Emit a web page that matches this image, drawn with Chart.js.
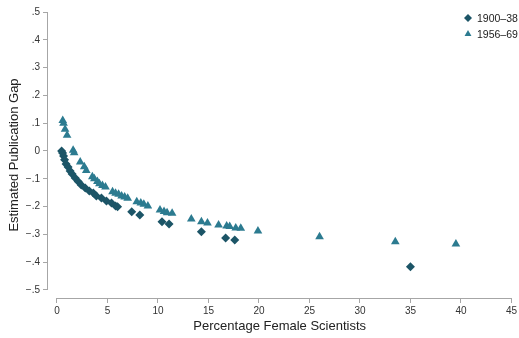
<!DOCTYPE html>
<html>
<head>
<meta charset="utf-8">
<script src="https://cdn.jsdelivr.net/npm/chart.js@4"></script>
<style>
  html, body { margin: 0; padding: 0; background: #fff; }
</style>
</head>
<body>
<canvas id="gapChart" width="519" height="338"></canvas>
<script>
// series 1900-38 (diamonds): percentage female scientists / estimated gap
const early_x = [0.46, 0.55, 0.65, 0.75, 0.9, 1.1, 1.3, 1.5, 1.8, 2.1, 2.4, 2.8, 3.2, 3.6, 3.9, 4.4, 4.9, 5.4, 5.8, 6.0, 7.4, 8.2, 10.4, 11.1, 14.3, 16.7, 17.6, 35.0];
const early_y = [0.0, -0.007, -0.018, -0.032, -0.047, -0.058, -0.072, -0.083, -0.097, -0.11, -0.122, -0.133, -0.144, -0.151, -0.162, -0.169, -0.18, -0.187, -0.198, -0.201, -0.219, -0.23, -0.255, -0.263, -0.291, -0.313, -0.32, -0.417];

// series 1956-69 (triangles)
const late_x = [0.57, 0.65, 0.8, 1.0, 1.6, 1.7, 2.3, 2.7, 2.9, 3.5, 3.7, 4.0, 4.2, 4.5, 4.8, 5.5, 5.8, 6.1, 6.4, 6.7, 7.0, 7.9, 8.3, 8.6, 9.0, 10.2, 10.6, 10.9, 11.4, 13.3, 14.3, 14.9, 16.0, 16.8, 17.1, 17.7, 18.2, 19.9, 26.0, 33.5, 39.5];
const late_y = [0.11, 0.10, 0.078, 0.057, 0.003, -0.006, -0.04, -0.057, -0.07, -0.093, -0.1, -0.11, -0.118, -0.124, -0.13, -0.147, -0.152, -0.156, -0.162, -0.166, -0.17, -0.183, -0.187, -0.192, -0.198, -0.212, -0.218, -0.222, -0.224, -0.245, -0.255, -0.259, -0.266, -0.27, -0.272, -0.277, -0.278, -0.288, -0.309, -0.327, -0.335];

const seriesNames = ['1900\u201338', '1956\u201369'];
const xTicks = [0, 5, 10, 15, 20, 25, 30, 35, 40, 45];
const yTicks = [-0.5, -0.4, -0.3, -0.2, -0.1, 0, 0.1, 0.2, 0.3, 0.4, 0.5];

const colEarly = '#1c5567';
const colLate = '#2c7b90';
const axisGray = '#a6a6a6';

const toPoints = (xs, ys) => xs.map((x, i) => ({ x: x, y: ys[i] }));

function fmtY(v) {
    if (Math.abs(v) < 1e-9) return '0';
    const s = Math.abs(v).toFixed(1).replace(/^0/, '');
    return (v < 0 ? '\u2212' : '') + s;
}

// axis lines only between first and last tick + legend in the corner
const axisLines = {
    id: 'axisLines',
    afterDraw(chart) {
        const ctx = chart.ctx;
        const xs = chart.scales.x, ys = chart.scales.y;
        ctx.save();
        ctx.strokeStyle = axisGray;
        ctx.lineWidth = 1;
        const yb = Math.round(xs.top) + 0.5;
        ctx.beginPath();
        ctx.moveTo(xs.getPixelForValue(xTicks[0]), yb);
        ctx.lineTo(xs.getPixelForValue(xTicks[xTicks.length - 1]), yb);
        ctx.stroke();
        const xl = Math.round(ys.right) - 0.5;
        ctx.beginPath();
        ctx.moveTo(xl, ys.getPixelForValue(yTicks[0]));
        ctx.lineTo(xl, ys.getPixelForValue(yTicks[yTicks.length - 1]));
        ctx.stroke();

        ctx.font = '10.5px "Liberation Sans", Arial, sans-serif';
        ctx.textBaseline = 'middle';
        chart.data.datasets.forEach((ds, i) => {
            const cy = 18 + i * 16;
            ctx.fillStyle = ds.backgroundColor;
            ctx.strokeStyle = ds.backgroundColor;
            ctx.lineWidth = 0;
            Chart.helpers.drawPoint(ctx, {
                pointStyle: ds.pointStyle, radius: 4, rotation: 0, borderWidth: 0
            }, 468, cy);
            ctx.fillStyle = '#222';
            ctx.fillText(ds.label, 477, cy + 1);
        });
        ctx.restore();
    }
};

const tickFont = { family: '"Liberation Sans", Arial, sans-serif', size: 10 };
const titleFont = { family: '"Liberation Sans", Arial, sans-serif', size: 13 };

new Chart(document.getElementById('gapChart'), {
    type: 'scatter',
    data: {
        datasets: [{
            label: seriesNames[0],
            data: toPoints(early_x, early_y),
            pointStyle: 'rectRot',
            radius: 4.5,
            backgroundColor: colEarly,
            borderColor: colEarly,
            borderWidth: 0
        }, {
            label: seriesNames[1],
            data: toPoints(late_x, late_y),
            pointStyle: 'triangle',
            radius: 5,
            backgroundColor: colLate,
            borderColor: colLate,
            borderWidth: 0
        }]
    },
    options: {
        responsive: false,
        animation: false,
        layout: { padding: { top: 12, right: 5, left: 0, bottom: 0 } },
        plugins: {
            legend: { display: false },
            tooltip: { enabled: false }
        },
        scales: {
            x: {
                type: 'linear',
                min: -0.89,
                max: 45,
                afterBuildTicks: s => { s.ticks = xTicks.map(v => ({ value: v })); },
                afterFit: s => { s.height = 40; },
                ticks: { font: tickFont, color: '#333', padding: 2, maxRotation: 0, autoSkip: false,
                         callback: v => String(v) },
                grid: { drawOnChartArea: false, tickLength: 5, color: axisGray },
                border: { display: false },
                title: { display: true, text: 'Percentage Female Scientists', font: titleFont,
                         color: '#222', padding: { top: 0, bottom: 4 } }
            },
            y: {
                type: 'linear',
                min: -0.529,
                max: 0.5,
                afterBuildTicks: s => { s.ticks = yTicks.map(v => ({ value: v })); },
                afterFit: s => { s.width = 48; },
                ticks: { font: tickFont, color: '#333', padding: 3, autoSkip: false,
                         callback: v => fmtY(v) },
                grid: { drawOnChartArea: false, tickLength: 5, color: axisGray },
                border: { display: false },
                title: { display: true, text: 'Estimated Publication Gap', font: titleFont,
                         color: '#222', padding: { top: 7, bottom: 0 } }
            }
        }
    },
    plugins: [axisLines]
});
</script>
</body>
</html>
